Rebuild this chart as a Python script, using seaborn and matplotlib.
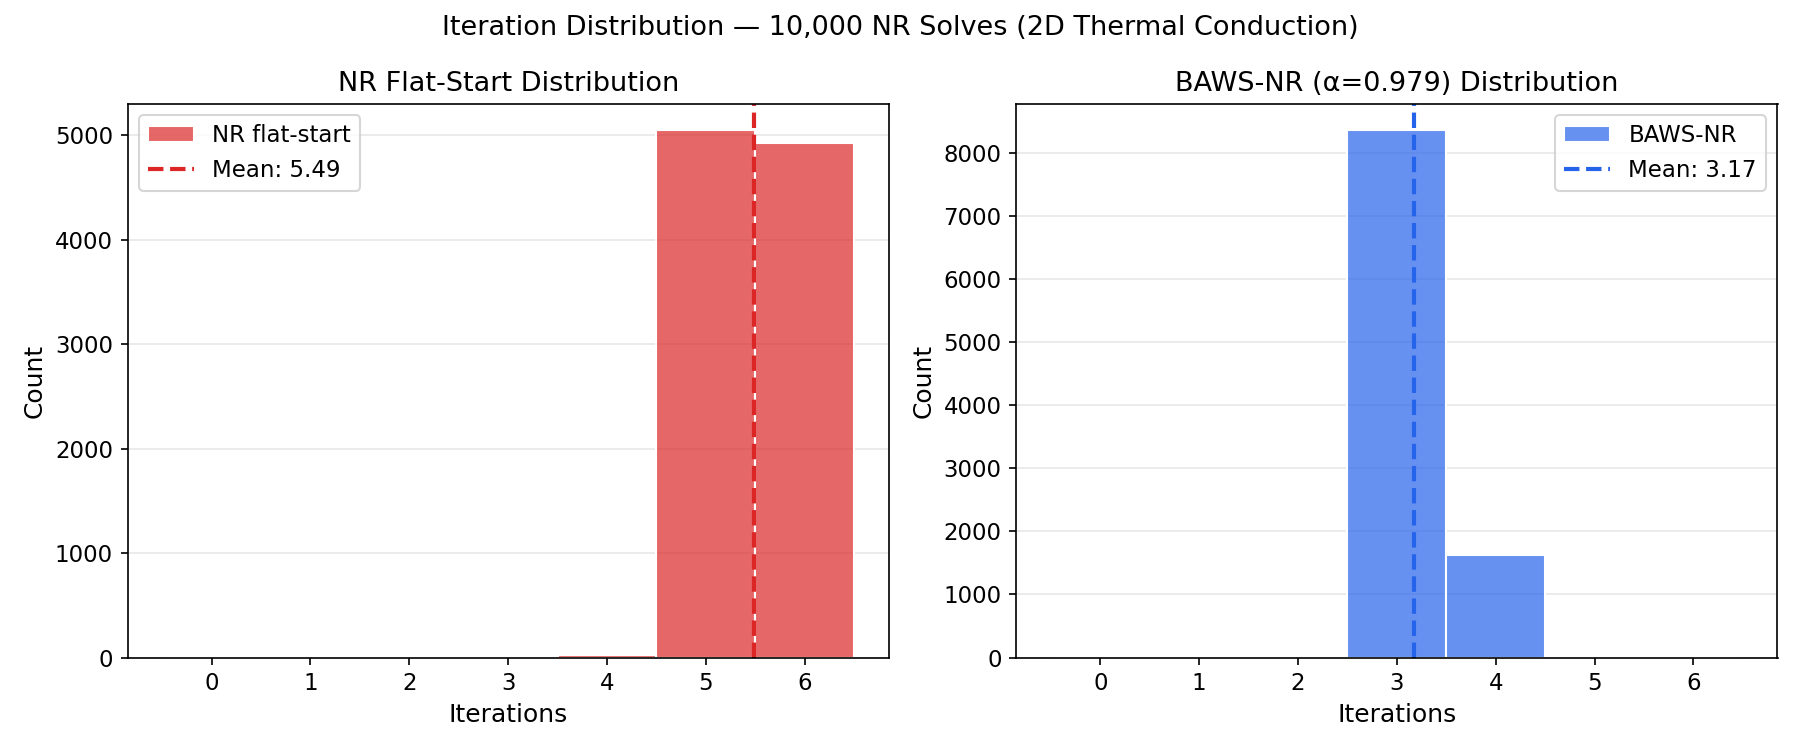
import numpy as np
import pandas as pd
import matplotlib
matplotlib.use('Agg')
import matplotlib.pyplot as plt
import seaborn as sns

# Iteration counts
iterations = [0, 1, 2, 3, 4, 5, 6]
nr_counts = [0, 0, 0, 0, 25, 5050, 4925]
baws_counts = [0, 0, 0, 8360, 1620, 15, 0]
nr_mean = 5.49
baws_mean = 3.17

nr_color = '#dc2626'
baws_color = '#2563eb'

df = pd.DataFrame({'Iterations': iterations, 'nr': nr_counts, 'baws': baws_counts})

fig, axes = plt.subplots(1, 2, figsize=(12, 5), dpi=150)


def plot_panel(ax, col, color, label, mean, title, loc):
    # discrete=True gives unit bins centred on each iteration count
    sns.histplot(data=df, x='Iterations', weights=col, discrete=True, color=color,
                 alpha=0.7, edgecolor='white', linewidth=1, label=label, ax=ax)
    ax.axvline(mean, color=color, linestyle='--', linewidth=2, label=f'Mean: {mean:.2f}')
    ax.set_title(title, fontsize=13)
    ax.set_xlabel('Iterations', fontsize=12)
    ax.set_ylabel('Count', fontsize=12)
    ax.set_xticks(iterations)
    ax.grid(True, axis='y', alpha=0.3)
    ax.set_axisbelow(True)
    ax.tick_params(labelsize=11)
    # bars first, then the mean line, as in the reference legend
    handles, labels = ax.get_legend_handles_labels()
    ax.legend(handles[::-1], labels[::-1], loc=loc, fontsize=11)


plot_panel(axes[0], 'nr', nr_color, 'NR flat-start', nr_mean, 'NR Flat-Start Distribution', 'upper left')
plot_panel(axes[1], 'baws', baws_color, 'BAWS-NR', baws_mean, 'BAWS-NR (α=0.979) Distribution', 'upper right')

fig.suptitle('Iteration Distribution — 10,000 NR Solves (2D Thermal Conduction)', fontsize=13)
plt.tight_layout()
plt.savefig('out.png', dpi=150)
